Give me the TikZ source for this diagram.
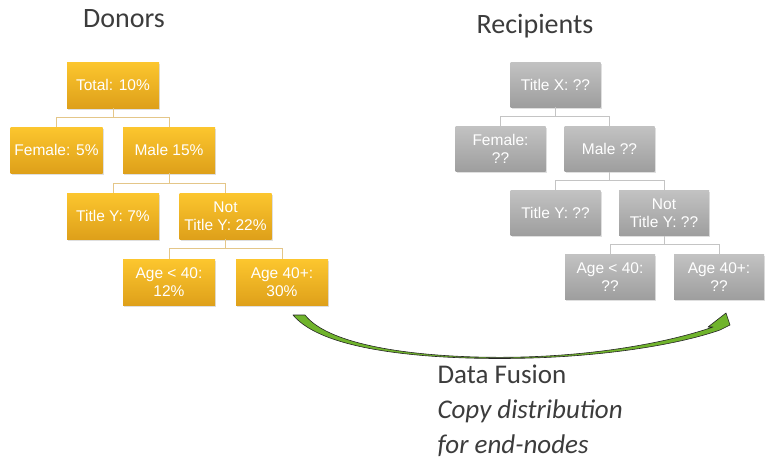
\documentclass[tikz,border=0pt]{standalone}
\usepackage{fontspec}
\setmainfont{Carlito}
\newfontfamily\boxfont{Liberation Sans}
\usepackage{xcolor}
\usetikzlibrary{shadows}

\definecolor{goldtop}{RGB}{252,198,46}
\definecolor{goldbot}{RGB}{222,160,26}
\definecolor{greytop}{RGB}{194,194,194}
\definecolor{greybot}{RGB}{158,158,158}
\definecolor{tanline}{RGB}{228,198,136}
\definecolor{greyline}{RGB}{196,196,196}
\definecolor{fusegreen}{RGB}{112,180,44}
\definecolor{headgrey}{RGB}{60,60,60}

\begin{document}
\begin{tikzpicture}[
    x=1pt, y=-1pt,
    box/.style={
        minimum width=92pt, minimum height=46pt,
        inner sep=2pt, align=center, text=white,
        font=\boxfont\fontsize{15.5}{18}\selectfont,
        drop shadow={opacity=0.25, shadow xshift=1pt, shadow yshift=-1.5pt}
    },
    donor/.style={box, top color=goldtop, bottom color=goldbot},
    recip/.style={box, top color=greytop, bottom color=greybot,
        minimum width=90pt, minimum height=45pt},
    dlink/.style={draw=tanline, line width=1pt},
    rlink/.style={draw=greyline, line width=1pt},
    heading/.style={anchor=base, text=headgrey, font=\fontsize{28}{34}\selectfont}
]
\useasboundingbox (0,0) rectangle (767,461);

% Headings over the two trees
\node[heading] (donhead) at (124,27) {Donors};
\node[heading] (rechead) at (535,33) {Recipients};

% Donor tree (gold)
\node[donor] (total)   at (113,85)    {Total: 10\%};
\node[donor] (dfemale) at (56.5,150)  {Female: 5\%};
\node[donor] (dmale)   at (169,150)   {Male 15\%};
\node[donor] (dtitley) at (113,216)   {Title Y: 7\%};
\node[donor] (dnoty)   at (225.5,216) {Not\\Title Y: 22\%};
\node[donor] (dyoung)  at (169,282.5) {Age < 40:\\12\%};
\node[donor] (dold)    at (282,282.5) {Age 40+:\\30\%};

% Recipient tree (grey)
\node[recip] (titlex)  at (555.5,84.5) {Title X: ??};
\node[recip] (rfemale) at (500.5,149)  {Female:\\??};
\node[recip] (rmale)   at (609.5,149)  {Male ??};
\node[recip] (rtitley) at (555.5,213)  {Title Y: ??};
\node[recip] (rnoty)   at (664,213)    {Not\\Title Y: ??};
\node[recip] (ryoung)  at (610,277)    {Age < 40:\\??};
\node[recip] (rold)    at (719,277)    {Age 40+:\\??};

% Elbow links, donors
\draw[dlink] (total.south) -- ++(0,9) -| (dfemale.north);
\draw[dlink] (total.south) -- ++(0,9) -| (dmale.north);
\draw[dlink] (dmale.south) -- ++(0,10) -| (dtitley.north);
\draw[dlink] (dmale.south) -- ++(0,10) -| (dnoty.north);
\draw[dlink] (dnoty.south) -- ++(0,9.5) -| (dyoung.north);
\draw[dlink] (dnoty.south) -- ++(0,9.5) -| (dold.north);

% Elbow links, recipients
\draw[rlink] (titlex.south) -- ++(0,9) -| (rfemale.north);
\draw[rlink] (titlex.south) -- ++(0,9) -| (rmale.north);
\draw[rlink] (rmale.south) -- ++(0,9) -| (rtitley.north);
\draw[rlink] (rmale.south) -- ++(0,9) -| (rnoty.north);
\draw[rlink] (rnoty.south) -- ++(0,9) -| (ryoung.north);
\draw[rlink] (rnoty.south) -- ++(0,9) -| (rold.north);

% Curved block arrow: data fusion from donor to recipient end-nodes
\draw[fill=fusegreen, draw=black!85, line width=0.6pt, line join=round]
    (293,315) .. controls (322,350) and (420,358.5) .. (500,358.5)
    .. controls (592,358.5) and (674,346) .. (720,330)
    -- (730,325) -- (726,313) -- (708,327) -- (713,327)
    .. controls (670,342) and (592,357.3) .. (500,357.3)
    .. controls (422,357.3) and (330,347) .. (305,315) -- cycle;

\node[anchor=base west, align=left, text=headgrey,
      font=\fontsize{27}{35}\selectfont] (fusion) at (434,453)
    {Data Fusion\\\textit{Copy distribution}\\\textit{for end-nodes}};

\end{tikzpicture}
\end{document}
